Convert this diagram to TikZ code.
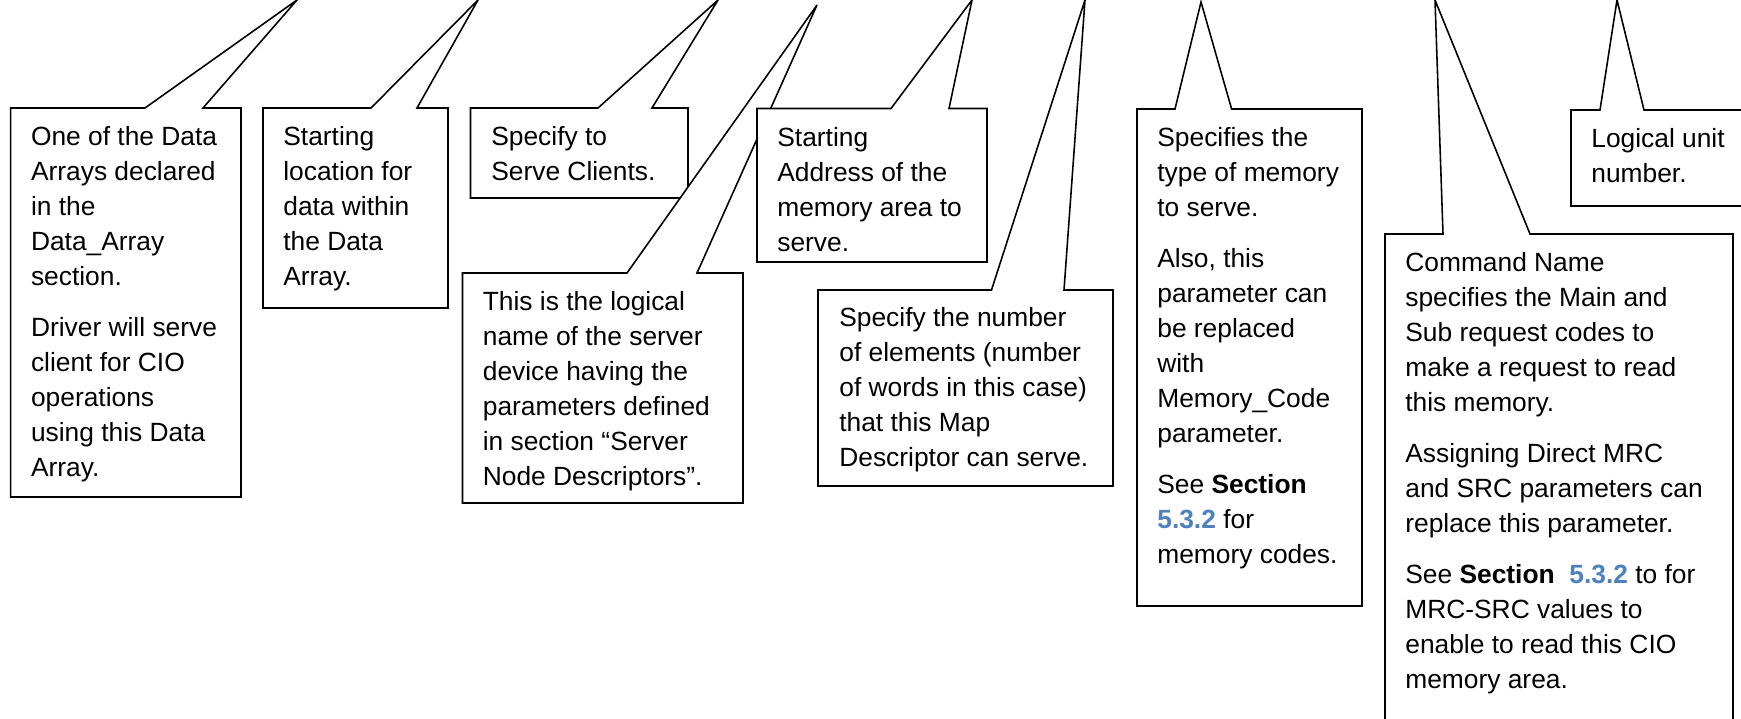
\documentclass[tikz,border=0pt]{standalone}
\usepackage{fontspec}
\setmainfont{Liberation Sans}
\definecolor{seclink}{HTML}{4F81BD}
\begin{document}
\begin{tikzpicture}[x=0.02cm, y=-0.02cm,%
% common options for the callout outlines:
callout/.style = {draw, fill=white, line width=0.9pt, line join=miter},
% common options for the texts:
note/.style = {anchor=north west, inner sep=0, align=left,
            font=\fontsize{15}{19.9}\selectfont}]
\useasboundingbox (0,0) rectangle (1741,718);
\draw[callout] (10.7,108) -- (145,108) -- (297,0) -- (203,108) -- (241,108) -- (241,497) -- (10.7,497) -- cycle;
\node[note] (DataArray) at (30.7,126.5) {One of the Data\\Arrays declared\\in the\\Data\_Array\\section.\\[9.1pt]Driver will serve\\client for CIO\\operations\\using this Data\\Array.};
\draw[callout] (263,108) -- (371,108) -- (478,0) -- (417,108) -- (448,108) -- (448,308) -- (263,308) -- cycle;
\node[note] (StartOff) at (283,126.5) {Starting\\location for\\data within\\the Data\\Array.};
\draw[callout] (470.5,108) -- (598,108) -- (718,0) -- (652,108) -- (688,108) -- (688,198) -- (470.5,198) -- cycle;
\node[note] (Function) at (491,126.5) {Specify to\\Serve Clients.};
\draw[callout] (462.5,273) -- (627,273) -- (817,5) -- (697,273) -- (743,273) -- (743,503) -- (462.5,503) -- cycle;
\node[note] (NodeName) at (482.5,291) {This is the logical\\name of the server\\device having the\\parameters defined\\in section “Server\\Node Descriptors”.};
\draw[callout] (757,108.5) -- (891,108.5) -- (972,0) -- (949,108.5) -- (987,108.5) -- (987,262) -- (757,262) -- cycle;
\node[note] (Address) at (777,127) {Starting\\Address of the\\memory area to\\serve.};
\draw[callout] (818,290) -- (991.5,290) -- (1085,0) -- (1064,290) -- (1113,290) -- (1113,486) -- (818,486) -- cycle;
\node[note] (Length) at (839,307.5) {Specify the number\\of elements (number\\of words in this case)\\that this Map\\Descriptor can serve.};
\draw[callout] (1137,109) -- (1175,109) -- (1201,2) -- (1231.6,109) -- (1362,109) -- (1362,606) -- (1137,606) -- cycle;
\node[note] (MemType) at (1157,127) {Specifies the\\type of memory\\to serve.\\[9.1pt]Also, this\\parameter can\\be replaced\\with\\Memory\_Code\\parameter.\\[9.1pt]See \textbf{Section}\\\textcolor{seclink}{\textbf{5.3.2}} for\\memory codes.};
\draw[callout] (1385,725) -- (1385,234) -- (1443,234) -- (1435,0) -- (1530,234) -- (1733,234) -- (1733,725);
\node[note] (CmdName) at (1405,252) {Command Name\\specifies the Main and\\Sub request codes to\\make a request to read\\this memory.\\[9.1pt]Assigning Direct MRC\\and SRC parameters can\\replace this parameter.\\[9.1pt]See \textbf{Section}\ \ \textcolor{seclink}{\textbf{5.3.2}} to for\\MRC-SRC values to\\enable to read this CIO\\memory area.};
\draw[callout] (1745,110) -- (1644,110) -- (1617,0) -- (1600,110) -- (1571,110) -- (1571,206) -- (1745,206);
\node[note] (Lun) at (1591,128) {Logical unit\\number.};
\end{tikzpicture}
\end{document}
